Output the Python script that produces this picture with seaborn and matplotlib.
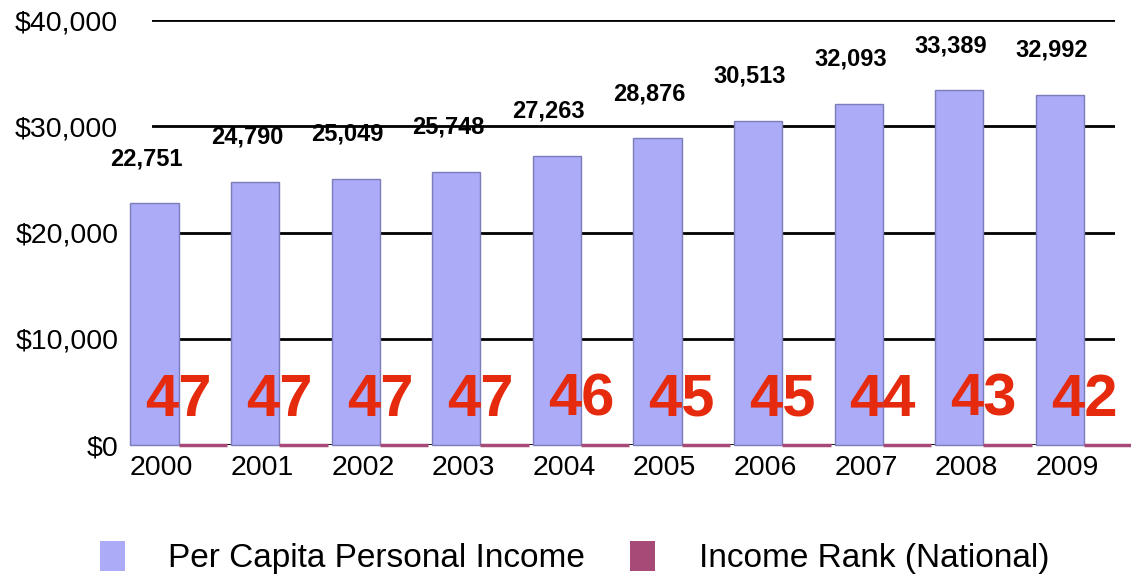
import matplotlib
matplotlib.use("Agg")
import matplotlib.pyplot as plt
import matplotlib.transforms as mtransforms
from matplotlib.patches import Patch
from matplotlib.ticker import FuncFormatter
import seaborn as sns
import pandas as pd

years = ["2000", "2001", "2002", "2003", "2004", "2005", "2006", "2007", "2008", "2009"]
income = [22751, 24790, 25049, 25748, 27263, 28876, 30513, 32093, 33389, 32992]
rank = [47, 47, 47, 47, 46, 45, 45, 44, 43, 42]
series = ["Per Capita Personal Income", "Income Rank (National)"]
yticks = [0, 10000, 20000, 30000, 40000]

income_color = "#ABABF8"
rank_color = "#A84A78"
label_red = "#E52A0E"

df = pd.DataFrame({
    "year": years * 2,
    "series": [series[0]] * len(years) + [series[1]] * len(years),
    "value": income + rank,
})

sns.set_theme(style="white")
plt.rcParams["font.family"] = ["Liberation Sans", "DejaVu Sans"]
plt.rcParams["text.color"] = "black"

fig = plt.figure(figsize=(11.31, 5.78), dpi=100)
ax = fig.add_axes([0.134, 0.23, 0.852, 0.735])

sns.barplot(data=df, x="year", y="value", hue="series", hue_order=series,
            palette=[income_color, rank_color], width=0.96, dodge=True,
            saturation=1, legend=False, ax=ax, zorder=3)

# style bars
for i, p in enumerate(ax.patches):
    p.set_clip_on(False)
    if i < len(years):
        p.set_edgecolor("#7C7CB8")
        p.set_linewidth(1.0)
    else:
        p.set_edgecolor(rank_color)
        p.set_linewidth(2.5)

ax.set_ylim(0, 40000)
ax.set_xlim(-0.27, 9.31)
ax.set_yticks(yticks)
ax.yaxis.set_major_formatter(FuncFormatter(lambda v, _: f"${v:,.0f}"))
ax.grid(axis="y", color="black", linewidth=2, zorder=0)
ax.set_axisbelow(True)
for s in ax.spines.values():
    s.set_visible(False)
ax.tick_params(axis="y", length=0, pad=24, labelsize=20.5, labelcolor="black")
ax.tick_params(axis="x", length=0, pad=7, labelsize=20.5, labelcolor="black")
ax.set_xlabel("")
ax.set_ylabel("")

offset = mtransforms.ScaledTranslation(-17 / 100, 0, fig.dpi_scale_trans)
for lbl in ax.get_xticklabels():
    lbl.set_transform(lbl.get_transform() + offset)

# value labels above income bars
for i, v in enumerate(income):
    ax.annotate(f"{v:,}", xy=(i - 0.32, v), xytext=(0, 24), textcoords="offset points",
                ha="center", va="bottom", fontsize=17, fontweight="bold", color="black",
                zorder=5, annotation_clip=False)

# rank labels
for i, r in enumerate(rank):
    ax.text(i, 4200, str(r), ha="center", va="center", fontsize=43,
            fontweight="bold", color=label_red, zorder=6, clip_on=False)

handles = [Patch(facecolor=income_color, edgecolor="none"),
           Patch(facecolor=rank_color, edgecolor="none")]
fig.legend(handles, series, loc="lower center", bbox_to_anchor=(0.508, -0.045), ncol=2,
           frameon=False, fontsize=24, handlelength=0.75, handleheight=1.0,
           handletextpad=1.3, columnspacing=1.35, labelcolor="black")

fig.savefig("out.png", dpi=100)
